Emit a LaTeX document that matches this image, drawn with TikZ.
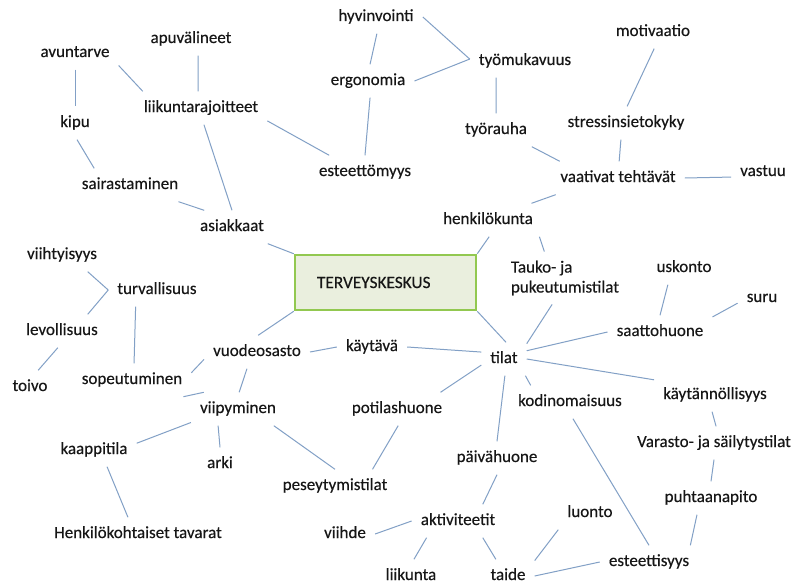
\documentclass[tikz,border=0pt]{standalone}
\usepackage{fontspec}
\setmainfont{Carlito}[FakeBold=0.35]
\definecolor{ln}{RGB}{130,160,198}
\definecolor{bx}{RGB}{146,200,80}
\definecolor{bxf}{RGB}{234,239,222}
\definecolor{tx}{RGB}{22,22,22}
\begin{document}
\begin{tikzpicture}[x=1pt,y=-1pt,
  lbl/.style={font=\fontsize{17}{20}\selectfont, text=tx, inner xsep=9pt, inner ysep=9pt, text height=11.5pt, text depth=3.5pt},
  lblml/.style={font=\fontsize{17}{20}\selectfont, text=tx, inner xsep=9pt, inner ysep=9pt, align=left},
  hub/.style={draw=bx, fill=bxf, line width=2.5pt, minimum width=181pt, minimum height=55pt, text width=137pt, inner xsep=22pt, align=left, font=\fontsize{17.3}{20}\selectfont, text=tx},
  cn/.style={draw=ln, line width=1pt}]
\useasboundingbox (0,0) rectangle (795,586);
\fill[white] (0,0) rectangle (795,586);

\node[hub] (box) at (385.5,282.5) {TERVEYSKESKUS};

\node[lbl] (hyv) at (376,17) {hyvinvointi};
\node[lbl] (apu) at (191,39) {apuvälineet};
\node[lbl] (avu) at (75,53) {avuntarve};
\node[lbl] (erg) at (368,81) {ergonomia};
\node[lbl] (tyom) at (525,61) {työmukavuus};
\node[lbl] (moti) at (653,32) {motivaatio};
\node[lbl] (liik) at (201,108) {liikuntarajoitteet};
\node[lbl] (kipu) at (75,123) {kipu};
\node[lbl] (este) at (365,172) {esteettömyys};
\node[lbl] (sair) at (130,185) {sairastaminen};
\node[lbl] (tyor) at (496,130) {työrauha};
\node[lbl] (stre) at (626,123) {stressinsietokyky};
\node[lbl] (vaat) at (618,178) {vaativat tehtävät};
\node[lbl] (vast) at (763,172) {vastuu};
\node[lbl] (henk) at (488,220) {henkilökunta};
\node[lbl] (asia) at (232,227) {asiakkaat};
\node[lbl] (viih) at (62,255) {viihtyisyys};
\node[lbl] (turv) at (157,290) {turvallisuus};
\node[lblml] (tauko) at (565,278) {Tauko- ja\\pukeutumistilat};
\node[lbl] (usk) at (684,268) {uskonto};
\node[lbl] (suru) at (762,298) {suru};
\node[lbl] (levo) at (62,331) {levollisuus};
\node[lbl] (saat) at (660,332) {saattohuone};
\node[lbl] (vuod) at (257,352) {vuodeosasto};
\node[lbl] (kayt) at (372,347) {käytävä};
\node[lbl] (tilat) at (504,359) {tilat};
\node[lbl] (toivo) at (30,387) {toivo};
\node[lbl] (sope) at (132,380) {sopeutuminen};
\node[lbl] (kayn) at (715,395) {käytännöllisyys};
\node[lbl] (kodi) at (570,402) {kodinomaisuus};
\node[lbl] (viip) at (238,409) {viipyminen};
\node[lbl] (poti) at (397,409) {potilashuone};
\node[lbl] (vara) at (714,443) {Varasto- ja säilytystilat};
\node[lbl] (kaap) at (94,450) {kaappitila};
\node[lbl] (arki) at (220,464) {arki};
\node[lbl] (paiv) at (497,458) {päivähuone};
\node[lbl] (pese) at (335,486) {peseytymistilat};
\node[lbl] (puht) at (711,498) {puhtaanapito};
\node[lbl] (luon) at (590,513) {luonto};
\node[lbl] (akti) at (458,521) {aktiviteetit};
\node[lbl] (henkk) at (138,534) {Henkilökohtaiset tavarat};
\node[lbl] (viihd) at (345,534) {viihde};
\node[lbl] (este2) at (649,562) {esteettisyys};
\node[lbl] (liiku) at (411,576) {liikunta};
\node[lbl] (taide) at (508,576) {taide};

\draw[cn] (hyv.-87) -- (erg.83);
\draw[cn] (hyv.east) -- (tyom.178);
\draw[cn] (erg.east) -- (tyom.178);
\draw[cn] (avu.-16.5) -- (liik.164);
\draw[cn] (apu.-67) -- (liik.100);
\draw[cn] (avu.south) -- (kipu.north);
\draw[cn] (erg.-83) -- (este.north);
\draw[cn] (liik.-11.7) -- (este.155);
\draw[cn] (liik.-80) -- (asia.north);
\draw[cn] (kipu.-83) -- (sair.155);
\draw[cn] (sair.-19) -- (asia.149);
\draw[cn] (asia.-25) -- (box.north west);
\draw[cn] (tyom.-150) -- (tyor.north);
\draw[cn] (moti.-86) -- (stre.86);
\draw[cn] (tyor.-25) -- (vaat.164);
\draw[cn] (stre.-107) -- (vaat.86);
\draw[cn] (vaat.east) -- (vast.-171);
\draw[cn] (vaat.-165) -- (henk.21);
\draw[cn] (henk.-86) -- (box.north east);
\draw[cn] (henk.-18) -- (tauko.128);
\draw[cn] (usk.-134) -- (saat.north);
\draw[cn] (suru.-168) -- (saat.16);
\draw[cn] (saat.west) -- (tilat.20);
\draw[cn] (box.south east) -- (tilat.83);
\draw[cn] (tauko.-116) -- (tilat.34);
\draw[cn] (kayt.east) -- (tilat.163);
\draw[cn] (vuod.east) -- (kayt.west);
\draw[cn] (box.south west) -- (vuod.86);
\draw[cn] (sope.7) -- (vuod.-172);
\draw[cn] (vuod.-121) -- (viip.86);
\draw[cn] (sope.-18) -- (viip.154);
\draw[cn] (turv.-142) -- (sope.83);
\draw[cn] (viih.-33) -- (turv.west);
\draw[cn] (levo.33) -- (turv.west);
\draw[cn] (levo.-104) -- (toivo.64);
\draw[cn] (viip.-164) -- (kaap.9);
\draw[cn] (viip.-140) -- (arki.north);
\draw[cn] (viip.-25) -- (pese.north);
\draw[cn] (poti.-86) -- (pese.24);
\draw[cn] (kaap.-52) -- (henkk.121);
\draw[cn] (tilat.-165) -- (poti.21);
\draw[cn] (tilat.-38) -- (kodi.157);
\draw[cn] (tilat.east) -- (kayn.166);
\draw[cn] (tilat.-87) -- (paiv.north);
\draw[cn] (kodi.-80) -- (este2.north);
\draw[cn] (kayn.-100) -- (vara.83);
\draw[cn] (vara.south) -- (puht.north);
\draw[cn] (puht.-130) -- (este2.22);
\draw[cn] (paiv.south) -- (akti.34);
\draw[cn] (viihd.east) -- (akti.west);
\draw[cn] (akti.-152) -- (liiku.80);
\draw[cn] (akti.-34) -- (taide.126);
\draw[cn] (luon.south west) -- (taide.30);
\draw[cn] (taide.east) -- (este2.west);
\end{tikzpicture}
\end{document}
